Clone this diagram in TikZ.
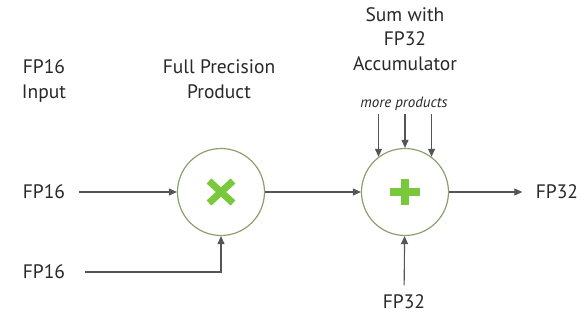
\documentclass[tikz,border=0pt]{standalone}
\usepackage{fontspec}
\setmainfont{PT Sans}
\usetikzlibrary{arrows.meta,calc,positioning}
\definecolor{ringgreen}{RGB}{140,160,110}
\definecolor{opgreen}{RGB}{122,200,60}
\definecolor{wiregray}{RGB}{85,85,85}
\definecolor{textgray}{RGB}{40,40,40}
\tikzset {
  >={Triangle[length=8pt,width=7pt]},
  every node/.style={font=\fontsize{19.5}{24.5}\selectfont,text=textgray},
  op/.style={circle,draw=ringgreen,line width=1.2pt,minimum size=87pt,inner sep=0pt},
  wire/.style={draw=wiregray,line width=1.1pt},
  sym/.style={opgreen,line width=7pt},
}

\begin{document}
\begin{tikzpicture}[x=1pt,y=-1pt]
  \useasboundingbox (0,0) rectangle (584,321);
  \node[align=center] (lblin) at (44,81) {FP16\\Input};
  \node[align=center] (lblmul) at (219,79) {Full Precision\\Product};
  \node[align=center] (lbladd) at (405,39) {Sum with\\FP32\\Accumulator};
  \node (in1) at (44,192) {FP16};
  \node (in2) at (44,272) {FP16};
  \node[op] (mul) at (221,192) {};
  \node[op] (add) at (405,192) {};
  \node (out) at (557,192) {FP32};
  \node (acc) at (404,302) {FP32};
  \node[font=\fontsize{15}{17}\selectfont\itshape] (more) at (404,104) {more products};
  \draw[sym,shift={(mul.center)}] (-12,-11) -- (12,11) (-12,11) -- (12,-11);
  \draw[sym,line width=8pt,shift={(add.center)}] (-15,0) -- (15,0) (0,-13) -- (0,13);
  \draw[wire,->,shorten <=10pt] (in1) -- (mul);
  \draw[wire,->,shorten <=16pt] (in2.east) -| (mul.south);
  \draw[wire,->] (mul) -- (add);
  \draw[wire,->,shorten >=10pt] (add) -- (out);
  \draw[wire,->,shorten <=6pt] (acc) -- (add);
  \draw[wire,<-] (add.127) -- (add.127 |- more.south);
  \draw[wire,<-] (add.north) -- (add.north |- more.south);
  \draw[wire,<-] (add.53) -- (add.53 |- more.south);
\end{tikzpicture}
\end{document}
